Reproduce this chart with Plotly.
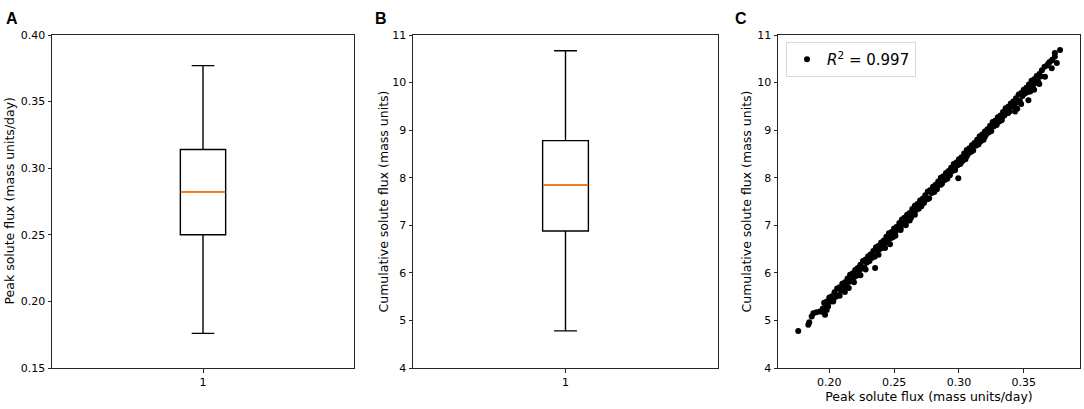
import plotly.graph_objects as go

peak_stats = dict(q1=0.250, median=0.282, q3=0.314, low=0.176, high=0.377)
cum_stats = dict(q1=6.88, median=7.85, q3=8.78, low=4.78, high=10.67)

# panel C points (peak flux vs cumulative flux)
peak_flux = [
    0.176, 0.1838, 0.1845, 0.1864, 0.1877, 0.1900, 0.1928, 0.1945, 0.1967, 0.1950, 0.1980,
    0.196, 0.198, 0.200, 0.202, 0.204, 0.206, 0.208, 0.210, 0.212, 0.214,
    0.216, 0.218, 0.220, 0.222, 0.224, 0.226, 0.228, 0.230, 0.232, 0.234,
    0.236, 0.238, 0.240, 0.242, 0.244, 0.246, 0.248, 0.250, 0.252, 0.254,
    0.256, 0.258, 0.260, 0.262, 0.264, 0.266, 0.268, 0.270, 0.272, 0.274,
    0.276, 0.278, 0.280, 0.282, 0.284, 0.286, 0.288, 0.290, 0.292, 0.294,
    0.296, 0.298, 0.300, 0.302, 0.304, 0.306, 0.308, 0.310, 0.312, 0.314,
    0.316, 0.318, 0.320, 0.322, 0.324, 0.326, 0.328, 0.330, 0.332, 0.334,
    0.336, 0.338, 0.340, 0.342, 0.344, 0.346, 0.348, 0.350, 0.352, 0.354,
    0.356, 0.358, 0.360, 0.362, 0.364, 0.366, 0.368, 0.370, 0.372, 0.374,
    0.197, 0.199, 0.201, 0.203, 0.205, 0.207, 0.209, 0.211, 0.213, 0.215,
    0.217, 0.219, 0.221, 0.223, 0.225, 0.227, 0.229, 0.231, 0.233, 0.235,
    0.237, 0.239, 0.241, 0.243, 0.245, 0.247, 0.249, 0.251, 0.253, 0.255,
    0.257, 0.259, 0.261, 0.263, 0.265, 0.267, 0.269, 0.271, 0.273, 0.275,
    0.277, 0.279, 0.281, 0.283, 0.285, 0.287, 0.289, 0.291, 0.293, 0.295,
    0.297, 0.299, 0.301, 0.303, 0.305, 0.307, 0.309, 0.311, 0.313, 0.315,
    0.317, 0.319, 0.321, 0.323, 0.325, 0.327, 0.329, 0.331, 0.333, 0.335,
    0.337, 0.339, 0.341, 0.343, 0.345, 0.347, 0.349, 0.351, 0.353, 0.355,
    0.357, 0.359, 0.361, 0.363,
    0.199, 0.203, 0.208, 0.212, 0.215, 0.219, 0.224, 0.228, 0.2353, 0.238,
    0.243, 0.2468, 0.251, 0.255, 0.259, 0.262, 0.266, 0.271, 0.276, 0.281,
    0.286, 0.290, 0.293, 0.2995, 0.297, 0.302, 0.306, 0.310, 0.316, 0.320,
    0.324, 0.329, 0.333, 0.338, 0.3433, 0.345, 0.348, 0.3536, 0.355, 0.358,
    0.362, 0.3664, 0.3716, 0.3755, 0.378, 0.372, 0.369, 0.374,
]
cum_flux = [
    4.78, 4.91, 4.96, 5.08, 5.15, 5.17, 5.19, 5.18, 5.12, 5.25, 5.22,
    5.37, 5.40, 5.48, 5.51, 5.59, 5.67, 5.70, 5.77, 5.80, 5.88,
    5.96, 5.99, 6.06, 6.10, 6.17, 6.25, 6.28, 6.35, 6.39, 6.46,
    6.54, 6.57, 6.64, 6.68, 6.76, 6.83, 6.86, 6.93, 6.97, 7.05,
    7.12, 7.16, 7.22, 7.26, 7.34, 7.41, 7.45, 7.52, 7.56, 7.63,
    7.71, 7.74, 7.81, 7.85, 7.92, 8.00, 8.03, 8.10, 8.14, 8.21,
    8.29, 8.32, 8.39, 8.43, 8.51, 8.58, 8.62, 8.68, 8.73, 8.80,
    8.87, 8.91, 8.97, 9.02, 9.09, 9.17, 9.20, 9.27, 9.31, 9.38,
    9.46, 9.49, 9.56, 9.60, 9.67, 9.75, 9.78, 9.85, 9.89, 9.96,
    10.04, 10.07, 10.14, 10.18, 10.26, 10.33, 10.36, 10.43, 10.47, 10.55,
    5.27, 5.30, 5.40, 5.43, 5.50, 5.53, 5.63, 5.68, 5.71, 5.81,
    5.84, 5.91, 5.94, 6.04, 6.09, 6.12, 6.22, 6.25, 6.32, 6.34,
    6.45, 6.50, 6.53, 6.63, 6.66, 6.72, 6.75, 6.86, 6.91, 6.94,
    7.04, 7.06, 7.13, 7.16, 7.27, 7.32, 7.35, 7.45, 7.47, 7.54,
    7.57, 7.68, 7.73, 7.76, 7.85, 7.88, 7.95, 7.98, 8.09, 8.14,
    8.16, 8.26, 8.29, 8.36, 8.39, 8.50, 8.54, 8.57, 8.67, 8.70,
    8.77, 8.80, 8.91, 8.95, 8.98, 9.08, 9.11, 9.18, 9.21, 9.31,
    9.36, 9.39, 9.49, 9.52, 9.59, 9.61, 9.72, 9.77, 9.80, 9.90,
    9.93, 9.99, 10.02, 10.13,
    5.30, 5.40, 5.52, 5.60, 5.68, 5.80, 5.95, 6.07, 6.10, 6.38,
    6.52, 6.60, 6.78, 6.90, 7.00, 7.10, 7.22, 7.40, 7.55, 7.70,
    7.85, 7.98, 8.05, 7.99, 8.18, 8.33, 8.45, 8.56, 8.75, 8.86,
    8.98, 9.12, 9.25, 9.36, 9.39, 9.45, 9.55, 9.63, 9.81, 9.85,
    9.97, 10.12, 10.30, 10.41, 10.685, 10.48, 10.40, 10.62,
]

FONT = "DejaVu Sans"
ORANGE = "#ff7f0e"
FRAME = "#262626"

# figure fills the whole window (body margin removed below)
W, H = 1084, 409


def px_x(v):
    return v / W


def px_y(v):
    return 1 - v / H


def add_box(fig, stats, xa, ya):
    fig.add_trace(go.Box(
        x=[1], q1=[stats["q1"]], median=[stats["median"]], q3=[stats["q3"]],
        lowerfence=[stats["low"]], upperfence=[stats["high"]],
        width=0.15, whiskerwidth=0.5, boxpoints=False,
        fillcolor="white", line=dict(color="black", width=1.4),
        xaxis=xa, yaxis=ya, showlegend=False, hoverinfo="skip"))
    # matplotlib style orange median line on top of the box
    fig.add_trace(go.Scatter(
        x=[0.926, 1.074], y=[stats["median"]] * 2, mode="lines",
        line=dict(color=ORANGE, width=1.8), xaxis=xa, yaxis=ya,
        showlegend=False, hoverinfo="skip"))


fig = go.Figure()
add_box(fig, peak_stats, "x", "y")
add_box(fig, cum_stats, "x2", "y2")
fig.add_trace(go.Scatter(
    x=peak_flux, y=cum_flux, mode="markers",
    marker=dict(color="black", size=6),
    name="<i>R</i><sup>2</sup> = 0.997",
    xaxis="x3", yaxis="y3", showlegend=True))

ax_common = dict(showline=True, linecolor=FRAME, linewidth=1, mirror=True,
                 ticks="outside", ticklen=3.5, tickcolor=FRAME,
                 showgrid=False, zeroline=False, automargin=False,
                 tickfont=dict(family=FONT, size=11, color="black"))
title_font = dict(family=FONT, size=12.5, color="black")
ydom = [px_y(368), px_y(35)]

fig.update_layout(
    width=W, height=H, margin=dict(l=0, r=0, t=0, b=0),
    paper_bgcolor="white", plot_bgcolor="white",
    xaxis=dict(ax_common, domain=[px_x(52), px_x(354)], range=[0.5, 1.5],
               tickvals=[1], ticktext=["1"], anchor="y"),
    yaxis=dict(ax_common, domain=ydom, range=[0.15, 0.40], dtick=0.05,
               tickformat=".2f", anchor="x"),
    xaxis2=dict(ax_common, domain=[px_x(413), px_x(718)], range=[0.5, 1.5],
                tickvals=[1], ticktext=["1"], anchor="y2"),
    yaxis2=dict(ax_common, domain=ydom, range=[4, 11], dtick=1, anchor="x2"),
    xaxis3=dict(ax_common, domain=[px_x(778), px_x(1080)], range=[0.1604, 0.3934],
                tickvals=[0.20, 0.25, 0.30, 0.35], tickformat=".2f", anchor="y3",
                title=dict(text="Peak solute flux (mass units/day)", font=title_font, standoff=4)),
    yaxis3=dict(ax_common, domain=ydom, range=[4, 11], dtick=1, anchor="x3"),
    legend=dict(x=px_x(786), y=px_y(42), xanchor="left", yanchor="top",
                bgcolor="white", bordercolor="#d9d9d9", borderwidth=1,
                font=dict(family=FONT, size=15, color="black"),
                itemwidth=30),
)

# rotated y-axis titles, placed where the reference has them
y_titles = [
    ("Peak solute flux (mass units/day)", 9),
    ("Cumulative solute flux (mass units)", 383),
    ("Cumulative solute flux (mass units)", 746),
]
for text, xpos in y_titles:
    fig.add_annotation(text=text, x=px_x(xpos), y=px_y(201.5), textangle=-90,
                       xref="paper", yref="paper", showarrow=False,
                       xanchor="center", yanchor="middle", font=title_font)

for label, xpos in [("A", 12), ("B", 381), ("C", 741)]:
    fig.add_annotation(text=f"<b>{label}</b>", x=px_x(xpos), y=px_y(18.5),
                       xref="paper", yref="paper", showarrow=False,
                       xanchor="center", yanchor="middle",
                       font=dict(family="Liberation Sans", size=16, color="black"))

fig.write_html("out.html", config={"displayModeBar": False},
               post_script="document.body.style.margin='0';")
